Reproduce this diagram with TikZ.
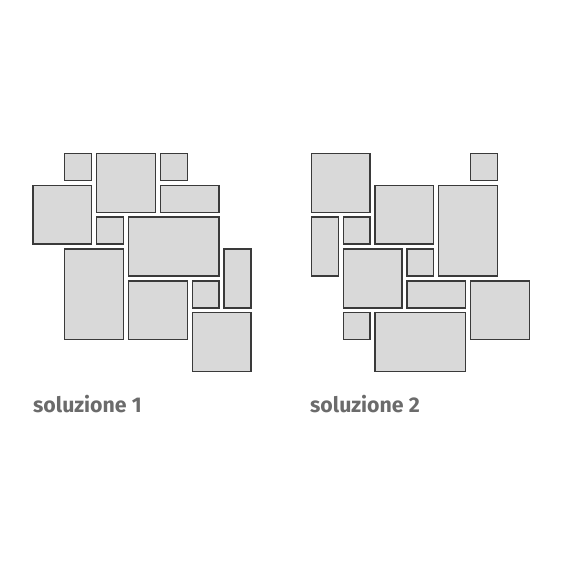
\documentclass[tikz,border=0pt]{standalone}
\usepackage{fontspec}
\setsansfont{Fira Sans}
\definecolor{tilefill}{HTML}{D9D9D9}
\definecolor{tileedge}{HTML}{3A3A3A}
\definecolor{labelgray}{HTML}{6B6B6B}
\tikzset{
  tile/.style={draw=tileedge,fill=tilefill,line width=1.3pt},
  caption/.style={anchor=base west,inner sep=0pt,text=labelgray,
    font=\sffamily\bfseries\fontsize{21.3}{24}\selectfont}
}
% one tile: column, row, width, height (in grid cells)
\newcommand{\tessera}[4]{%
  \draw[tile] ({#1*31.85+0.6},{#2*31.9+0.6}) rectangle
    ({(#1+#3)*31.85-4.3},{(#2+#4)*31.9-4.3});}
\begin{document}
\begin{tikzpicture}[x=1pt,y=-1pt]
  \useasboundingbox (0,0) rectangle (563,563);
  \begin{scope}[shift={(32.3,152.7)}]
    \tessera{1}{0}{1}{1}
    \tessera{2}{0}{2}{2}
    \tessera{4}{0}{1}{1}
    \tessera{0}{1}{2}{2}
    \tessera{4}{1}{2}{1}
    \tessera{2}{2}{1}{1}
    \tessera{3}{2}{3}{2}
    \tessera{1}{3}{2}{3}
    \tessera{6}{3}{1}{2}
    \tessera{3}{4}{2}{2}
    \tessera{5}{4}{1}{1}
    \tessera{5}{5}{2}{2}
  \end{scope}
  \begin{scope}[shift={(310.7,152.7)}]
    \tessera{0}{0}{2}{2}
    \tessera{5}{0}{1}{1}
    \tessera{2}{1}{2}{2}
    \tessera{4}{1}{2}{3}
    \tessera{0}{2}{1}{2}
    \tessera{1}{2}{1}{1}
    \tessera{1}{3}{2}{2}
    \tessera{3}{3}{1}{1}
    \tessera{3}{4}{2}{1}
    \tessera{5}{4}{2}{2}
    \tessera{1}{5}{1}{1}
    \tessera{2}{5}{3}{2}
  \end{scope}
  \node[caption] (sol1) at (33,412) {soluzione 1};
  \node[caption] (sol2) at (310,412) {soluzione 2};
\end{tikzpicture}
\end{document}
